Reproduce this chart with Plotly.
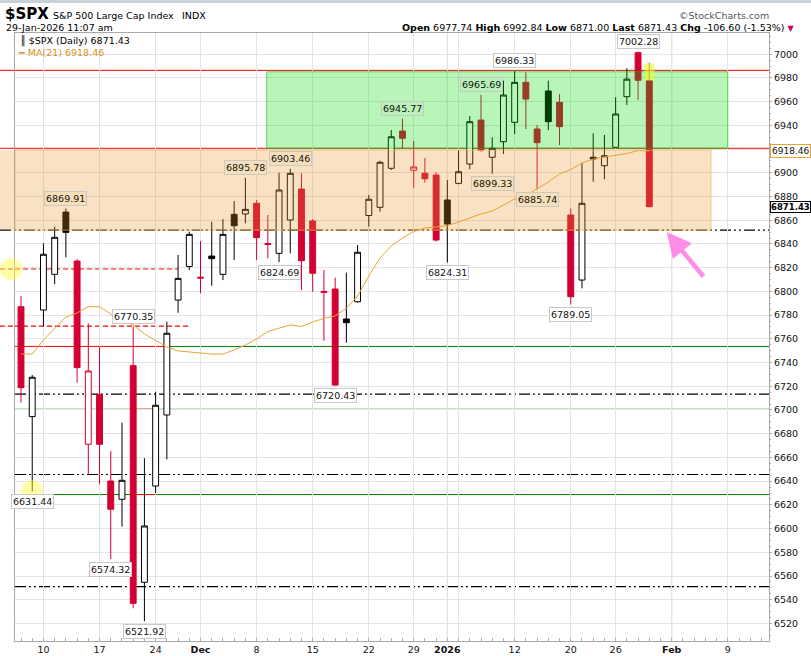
import plotly.graph_objects as go

# daily bars, Nov 6 2025 .. Jan 29 2026 (trading-day index 0..56)
opens = [6787.1, 6694.4, 6784.3, 6814.4, 6866.9, 6825.6, 6671.1, 6713.2, 6640.1, 6624.7,
         6737.4, 6554.7, 6635.9, 6695.8, 6792.7, 6821.0, 6812.0, 6829.8, 6814.4, 6865.0,
         6865.3, 6874.3, 6840.3, 6832.1, 6860.2, 6886.3, 6859.4, 6800.0, 6802.0, 6776.7,
         6791.3, 6864.0, 6870.9, 6903.8, 6935.2, 6902.1, 6899.6, 6898.1, 6877.1, 6891.1,
         6907.4, 6944.5, 6913.1, 6926.2, 6942.6, 6976.3, 6936.9, 6969.0, 6959.4, 6864.4,
         6809.6, 6913.1, 6906.0, 6921.5, 6964.2, 7001.3, 6977.74]
highs = [6796.1, 6729.5, 6840.6, 6854.6, 6869.91, 6827.3, 6773.1, 6753.4, 6665.4, 6689.3,
         6770.35, 6659.3, 6715.4, 6774.5, 6830.7, 6850.3, 6842.5, 6858.8, 6861.0, 6876.2,
         6895.78, 6877.1, 6864.4, 6900.1, 6903.46, 6899.6, 6861.0, 6818.0, 6811.6, 6815.8,
         6839.1, 6881.3, 6910.2, 6936.1, 6945.77, 6926.8, 6912.5, 6900.4, 6893.9, 6919.2,
         6947.9, 6965.69, 6929.9, 6977.7, 6986.33, 6984.7, 6940.3, 6977.7, 6966.4, 6870.1,
         6908.5, 6933.3, 6931.9, 6963.7, 6988.1, 7002.28, 6992.84]
lows = [6706.2, 6631.44, 6770.2, 6806.0, 6828.8, 6723.0, 6645.2, 6637.4, 6574.32, 6601.6,
        6532.8, 6521.92, 6629.8, 6658.4, 6782.0, 6818.0, 6798.4, 6804.8, 6809.6, 6826.5,
        6857.4, 6826.5, 6827.9, 6824.69, 6832.1, 6801.2, 6799.7, 6758.4, 6720.43, 6756.7,
        6790.5, 6854.6, 6867.2, 6902.4, 6920.7, 6887.4, 6891.7, 6842.0, 6824.31, 6890.3,
        6903.0, 6917.8, 6899.33, 6915.9, 6932.7, 6936.9, 6885.74, 6936.1, 6923.4, 6789.05,
        6802.6, 6892.5, 6894.5, 6921.0, 6957.2, 6961.4, 6871.00]
closes = [6718.8, 6727.6, 6831.3, 6845.6, 6849.8, 6735.7, 6732.9, 6671.1, 6616.3, 6640.7,
          6537.0, 6602.2, 6704.0, 6764.7, 6811.0, 6848.1, 6811.3, 6827.6, 6848.1, 6855.4,
          6869.2, 6845.3, 6839.7, 6885.5, 6899.6, 6825.9, 6815.3, 6799.2, 6721.0, 6773.6,
          6833.0, 6877.7, 6908.9, 6930.4, 6929.1, 6904.9, 6895.0, 6843.3, 6856.8, 6900.9,
          6943.1, 6919.2, 6920.7, 6965.6, 6976.3, 6962.2, 6925.4, 6943.1, 6938.9, 6795.5,
          6874.3, 6911.6, 6914.4, 6949.6, 6979.0, 6978.03, 6871.43]
prev_close_first = 6796.0
ma21 = [6747.2, 6747.2, 6759.0, 6769.1, 6778.4, 6781.8, 6787.1, 6787.1, 6780.9, 6775.9,
        6771.7, 6764.1, 6759.0, 6753.2, 6749.8, 6748.9, 6748.1, 6747.2, 6747.2, 6750.6,
        6754.8, 6759.9, 6766.2, 6768.9, 6771.7, 6770.4, 6774.2, 6777.3, 6779.3, 6785.7,
        6796.1, 6813.0, 6828.2, 6838.3, 6845.0, 6850.5, 6853.5, 6854.3, 6855.6, 6858.5,
        6861.9, 6865.3, 6867.8, 6872.9, 6877.9, 6880.9, 6886.3, 6892.2, 6899.0, 6902.8,
        6908.3, 6911.6, 6913.3, 6915.0, 6916.3, 6918.8, 6918.46]

# x axis labels (trading-day index -> label)
tick_idx = [2, 7, 12, 16, 21, 26, 31, 35, 38, 39, 44, 49, 53, 58, 63]
tick_txt = ["10", "17", "24", "<b>Dec</b>", "8", "15", "22", "29", "<b>2026</b>", "",
            "12", "20", "26", "<b>Feb</b>", "9"]
month_idx = [16, 38, 58]

# drawn levels / zones
red_levels = [6986.4, 6920.7]
dashdot_levels = [6851.6, 6713.3, 6645.6, 6551.0]
green_levels = [6753.6, 6700.6, 6628.7]
red_dash_levels = [6818.9, 6770.7]
red_dash_end = [14.0, 15.0]
green_zone = [6920.7, 6985.2]
green_zone_x = [21.9, 63.0]
orange_zone = [6851.6, 6919.1]
orange_zone_end = 61.5

hi_label_idx = [4, 10, 20, 24, 34, 41, 44, 55]
lo_label_idx = [1, 8, 11, 23, 28, 38, 42, 46, 49]

RED = "#d20032"
FONT = "DejaVu Sans"
X_RANGE = [-0.535, 66.67]
Y_RANGE = [6505.2, 7017.9]
LEFT_PAD = -0.02  # zones and some lines run past the left frame to the page edge

# plot area in pixels: left 15, right 769, top 33, bottom 641
def px(X):
    return (X - 15) / 754.0

def py(Y):
    return (641 - Y) / 608.0

n = len(closes)
idx = list(range(n))
prev = [prev_close_first] + closes[:-1]
rising = [closes[i] >= prev[i] for i in idx]

fig = go.Figure()
fig.add_trace(go.Scatter(x=idx, y=ma21, mode="lines",
                         line=dict(color="#e8a530", width=1), hoverinfo="skip"))

for want, col in [(True, "black"), (False, RED)]:
    sel = [i for i in idx if rising[i] == want]
    fig.add_trace(go.Candlestick(
        x=sel,
        open=[opens[i] for i in sel], high=[highs[i] for i in sel],
        low=[lows[i] for i in sel], close=[closes[i] for i in sel],
        increasing=dict(line=dict(color=col, width=1), fillcolor="white"),
        decreasing=dict(line=dict(color=col, width=1), fillcolor=col),
        whiskerwidth=0,
    ))

shapes = []


def hline(y, x0, x1, color, width=1, dash=None, xref="paper"):
    shapes.append(dict(type="line", xref=xref, yref="y", x0=x0, x1=x1, y0=y, y1=y,
                       line=dict(color=color, width=width, dash=dash), layer="below"))


# month separators
for m in month_idx:
    shapes.append(dict(type="line", xref="x", yref="paper", x0=m, x1=m, y0=0, y1=1,
                       line=dict(color="#c4c4c4", width=1), layer="below"))
for lv in red_levels:
    hline(lv, LEFT_PAD, 1, "#ff0000")
DASHDOT = "11px,3px,2px,3px,2px,3px"
for k, lv in enumerate(dashdot_levels):
    hline(lv, LEFT_PAD if k == 0 else 0, 1, "black", 1.2, DASHDOT)
hline(green_levels[0], X_RANGE[0], 12.8, "#ff0000", xref="x")
hline(green_levels[0], 12.8, X_RANGE[1], "#008000", xref="x")
for lv in green_levels[1:]:
    hline(lv, 0, 1, "#008000")
    hline(lv, 9.7, 11.9, "#ff0000", xref="x")
for lv, end in zip(red_dash_levels, red_dash_end):
    hline(lv, LEFT_PAD, 0, "#ff0000", 1.2, "5px,3px")
    hline(lv, X_RANGE[0], end, "#ff0000", 1.2, "5px,3px", xref="x")

# translucent zones laid over the bars
ORANGE_FILL = "rgba(232,150,40,0.28)"
shapes.append(dict(type="rect", xref="paper", yref="y", x0=LEFT_PAD, x1=0,
                   y0=orange_zone[0], y1=orange_zone[1],
                   fillcolor=ORANGE_FILL, line=dict(width=0), layer="above"))
shapes.append(dict(type="rect", xref="x", yref="y", x0=X_RANGE[0], x1=orange_zone_end,
                   y0=orange_zone[0], y1=orange_zone[1], fillcolor=ORANGE_FILL,
                   line=dict(color="rgba(240,180,90,0.7)", width=1), layer="above"))
shapes.append(dict(type="rect", xref="x", yref="y", x0=green_zone_x[0], x1=green_zone_x[1],
                   y0=green_zone[0], y1=green_zone[1],
                   fillcolor="rgba(0,220,0,0.28)",
                   line=dict(color="rgba(0,200,0,0.6)", width=1), layer="above"))
# highlights
last = n - 1
shapes.append(dict(type="rect", xref="x", yref="y", x0=last - 0.45, x1=last + 0.45,
                   y0=opens[last], y1=highs[last] - 0.6,
                   fillcolor="rgba(235,255,40,0.6)", line=dict(width=0), layer="above"))
shapes.append(dict(type="circle", xref="paper", yref="y", x0=px(0), x1=px(22),
                   y0=red_dash_levels[0] - 9.5, y1=red_dash_levels[0] + 9.0,
                   fillcolor="rgba(255,255,60,0.45)", line=dict(width=0), layer="above"))
shapes.append(dict(type="circle", xref="x", yref="y", x0=0.0, x1=1.96,
                   y0=lows[1] - 9.3, y1=lows[1] + 9.3,
                   fillcolor="rgba(255,255,60,0.45)", line=dict(width=0), layer="above"))
# top strip of the page
shapes.append(dict(type="rect", xref="paper", yref="paper", x0=px(0), x1=px(811),
                   y0=py(3), y1=py(0), fillcolor="#c8d0da", line=dict(width=0)))


def label_bg(i, price):
    if orange_zone[0] <= price <= orange_zone[1] and i <= orange_zone_end:
        return "#f6dfb8"
    if green_zone[0] <= price <= green_zone[1] and green_zone_x[0] <= i <= green_zone_x[1]:
        return "#b8f2b8"
    return "white"


ann = []
for i in hi_label_idx:
    ann.append(dict(x=i, y=highs[i], text=f"{highs[i]:.2f}", showarrow=False, yshift=10,
                    xanchor="center", yanchor="middle",
                    bgcolor=label_bg(i, highs[i] + 9), bordercolor="#c8c8c8", borderwidth=1,
                    borderpad=1, font=dict(family=FONT, size=9.5, color="#111")))
for i in lo_label_idx:
    ann.append(dict(x=i, y=lows[i], text=f"{lows[i]:.2f}", showarrow=False, yshift=-10,
                    xanchor="center", yanchor="middle",
                    bgcolor=label_bg(i, lows[i] - 9), bordercolor="#c8c8c8", borderwidth=1,
                    borderpad=1, font=dict(family=FONT, size=9.5, color="#111")))

# right-axis value tags
ann.append(dict(xref="paper", yref="y", x=1, y=ma21[-1], xanchor="left", yanchor="middle",
                xshift=1, text=f"{ma21[-1]:.2f}", showarrow=False, bgcolor="white",
                bordercolor="#e8a530", borderwidth=1, borderpad=1,
                font=dict(family=FONT, size=9, color="#111")))
ann.append(dict(xref="paper", yref="y", x=1, y=closes[-1], xanchor="left", yanchor="middle",
                xshift=1, text=f"<b>{closes[-1]:.2f}</b>", showarrow=False, bgcolor="white",
                bordercolor="black", borderwidth=1, borderpad=0,
                font=dict(family=FONT, size=8.5, color="black")))

# pink arrow
ann.append(dict(x=57.55, y=orange_zone[0] - 1.5, ax=38, ay=46, text="", showarrow=True,
                arrowhead=2, arrowsize=1.1, arrowwidth=4.5, arrowcolor="#ff8ce6",
                standoff=0))


def page_text(X, Y, text, size=9.5, color="black", anchor="left"):
    ann.append(dict(xref="paper", yref="paper", x=px(X), y=py(Y), xanchor=anchor,
                    yanchor="middle", text=text, showarrow=False,
                    font=dict(family=FONT, size=size, color=color)))


# in-plot legend
page_text(18, 41, f"\u2551 $SPX (Daily) {closes[-1]:.2f}")
page_text(16, 52, f"\u2501 MA(21) {ma21[-1]:.2f}", color="#d89020")

# header
chg = closes[-1] - closes[-2]
pct = chg / closes[-2] * 100
page_text(3, 14, "<b>$SPX</b>", size=15)
page_text(51, 15, "S&P 500 Large Cap Index")
page_text(180, 15, "INDX")
page_text(4, 28, "29-Jan-2026 11:07 am")
page_text(771, 15, "\u00a9StockCharts.com", color="#555", anchor="right")
page_text(797, 28, (f"<b>Open</b> {opens[-1]:.2f} <b>High</b> {highs[-1]:.2f} "
                    f"<b>Low</b> {lows[-1]:.2f} <b>Last</b> {closes[-1]:.2f} "
                    f"<b>Chg</b> {chg:.2f} ({pct:.2f}%) "
                    "<span style='color:#c8005a;font-size:8px'>\u25bc</span>"),
          anchor="right")

fig.update_layout(
    width=811, height=656,
    margin=dict(l=15, r=42, t=33, b=15),
    paper_bgcolor="white", plot_bgcolor="white",
    showlegend=False, boxgap=0.25,
    font=dict(family=FONT, size=9.5, color="#111"),
    shapes=shapes, annotations=ann,
    xaxis=dict(range=X_RANGE, tickmode="array", tickvals=tick_idx, ticktext=tick_txt,
               showgrid=True, gridcolor="#e4e4e4", zeroline=False, automargin=False,
               showline=True, linecolor="#a8a8a8", mirror=True, ticks="",
               rangeslider=dict(visible=False), fixedrange=True,
               tickfont=dict(family=FONT, size=9.5, color="#111"),
               minor=dict(ticks="inside", dtick=1, tick0=0, ticklen=3, tickcolor="#b0b0b0")),
    yaxis=dict(range=Y_RANGE, side="right", dtick=20, tick0=0, automargin=False,
               showgrid=True, gridcolor="#e4e4e4", zeroline=False,
               showline=True, linecolor="#a8a8a8", mirror=True, fixedrange=True,
               ticks="outside", ticklen=2, tickcolor="#a8a8a8",
               tickfont=dict(family=FONT, size=9.5, color="#111"),
               minor=dict(ticks="outside", dtick=5, ticklen=1, tickcolor="#a8a8a8")),
)

fig.write_html("out.html", config={"displayModeBar": False},
               post_script="document.body.style.margin='0px';")
